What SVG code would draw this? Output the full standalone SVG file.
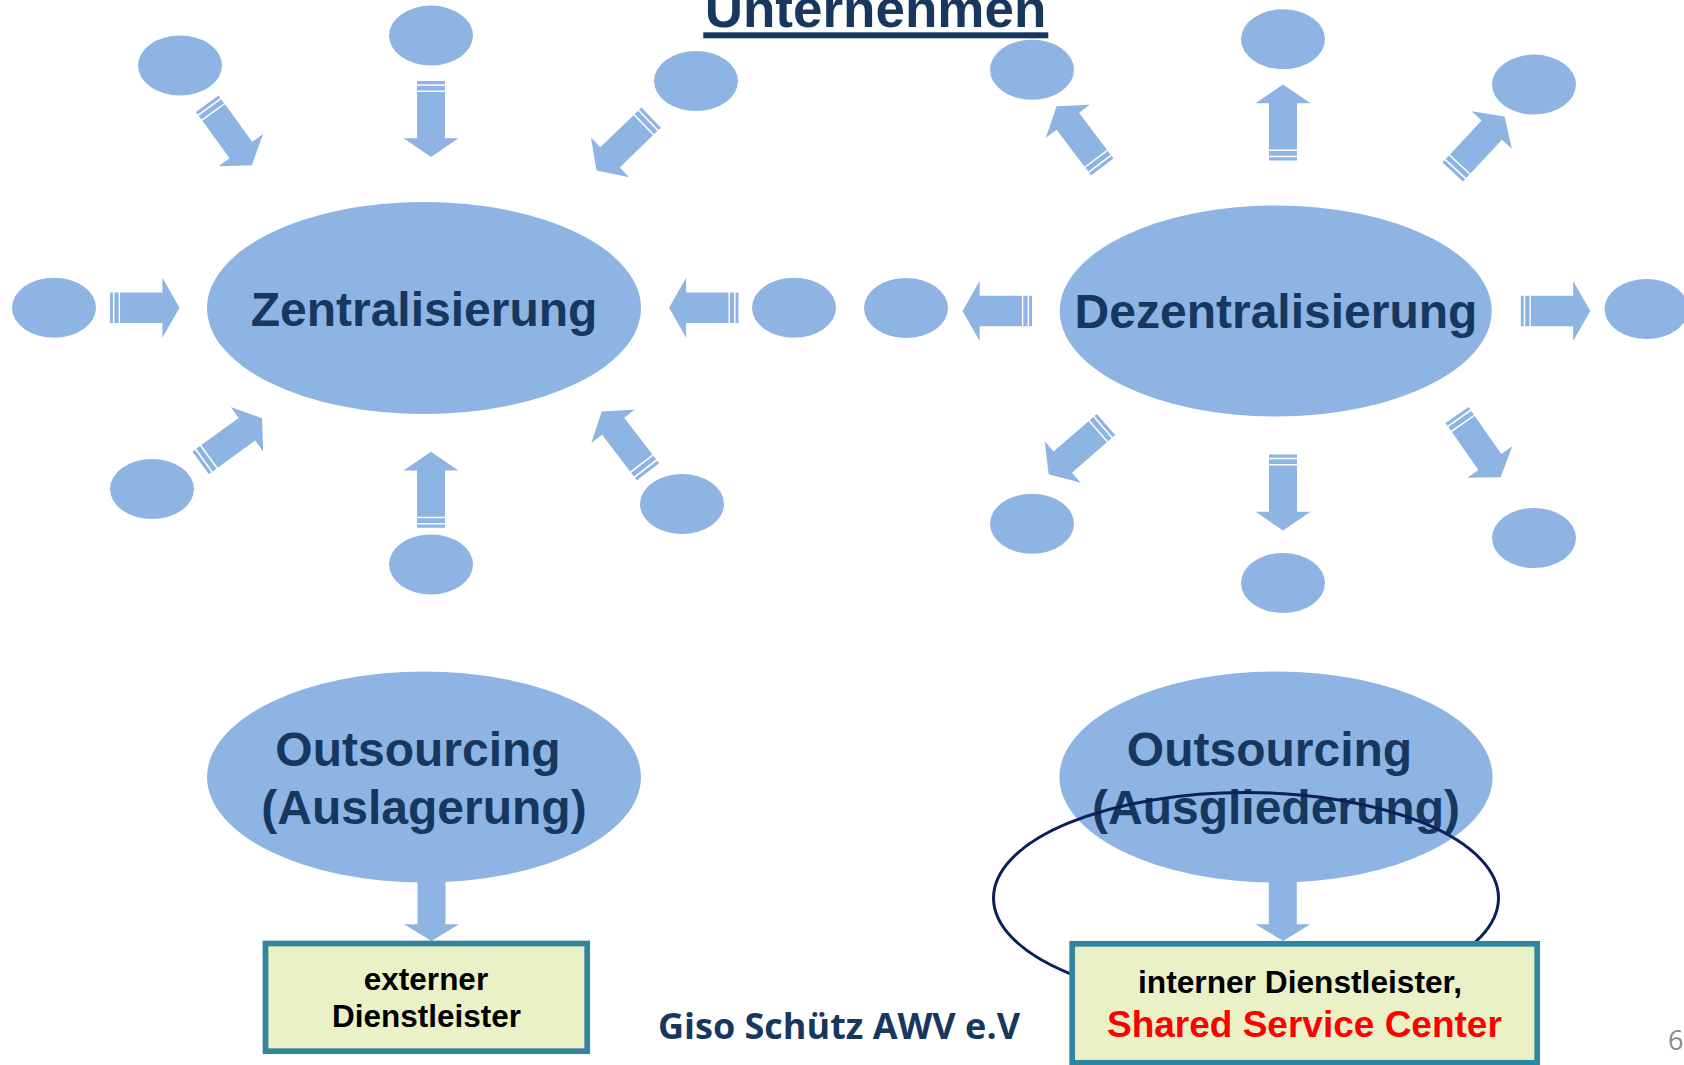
<svg xmlns="http://www.w3.org/2000/svg" width="1684" height="1065" viewBox="0 0 1684 1065">
<style>
.b{fill:#8EB4E3}
.t{font-family:"Liberation Sans",Arial,sans-serif;font-weight:bold;fill:#17375E;text-anchor:middle}
.big{font-size:48px}
.box{fill:#EBF1C6;stroke:#31859C;stroke-width:5.7}
.bt{font-family:"Liberation Sans",Arial,sans-serif;font-weight:bold;text-anchor:middle;fill:#000000}
.ring{fill:none;stroke:#0A1F5C;stroke-width:3}
</style>
<defs>
<path id="arr" d="M0,-14h3.2v28h-3.2z M4.8,-14h4.7v28h-4.7z M11,-14H57.3V-27.5L76,0L57.3,27.5V14H11z"/>
</defs>
<rect width="1684" height="1065" fill="#FFFFFF"/>

<g id="title">
<text class="t" x="875.5" y="27" font-size="53">Unternehmen</text>
<rect x="703.3" y="32.3" width="345" height="6" fill="#17375E"/>
</g>

<!-- left cluster -->
<g id="zentralisierung">
<ellipse class="b" cx="424" cy="308" rx="217" ry="106"/>
<text class="t big" x="424" y="326">Zentralisierung</text>
</g>
<g id="z-sat-tl"><ellipse class="b" cx="180" cy="65.5" rx="42" ry="30"/></g>
<g id="z-sat-t"><ellipse class="b" cx="431" cy="35.6" rx="42" ry="30"/></g>
<g id="z-sat-tr"><ellipse class="b" cx="696" cy="81" rx="42" ry="30"/></g>
<g id="z-sat-l"><ellipse class="b" cx="54" cy="307.7" rx="42" ry="30"/></g>
<g id="z-sat-r"><ellipse class="b" cx="794" cy="307.7" rx="42" ry="30"/></g>
<g id="z-sat-bl"><ellipse class="b" cx="152" cy="489" rx="42" ry="30"/></g>
<g id="z-sat-b"><ellipse class="b" cx="431" cy="564.5" rx="42" ry="30"/></g>
<g id="z-sat-br"><ellipse class="b" cx="682" cy="504" rx="42" ry="30"/></g>

<!-- right cluster -->
<g id="dezentralisierung">
<ellipse class="b" cx="1275.7" cy="311" rx="216" ry="105.5"/>
<text class="t big" x="1276" y="328">Dezentralisierung</text>
</g>
<g id="d-sat-tl"><ellipse class="b" cx="1032" cy="69.8" rx="42" ry="30"/></g>
<g id="d-sat-t"><ellipse class="b" cx="1283" cy="39.3" rx="42" ry="30"/></g>
<g id="d-sat-tr"><ellipse class="b" cx="1534" cy="84.6" rx="42" ry="30"/></g>
<g id="d-sat-l"><ellipse class="b" cx="906" cy="308" rx="42" ry="30"/></g>
<g id="d-sat-r"><ellipse class="b" cx="1646.5" cy="309" rx="42" ry="30"/></g>
<g id="d-sat-bl"><ellipse class="b" cx="1032" cy="523.7" rx="42" ry="30"/></g>
<g id="d-sat-b"><ellipse class="b" cx="1283" cy="583" rx="42" ry="30"/></g>
<g id="d-sat-br"><ellipse class="b" cx="1534" cy="538" rx="42" ry="30"/></g>

<!-- outsourcing nodes -->
<g id="outsourcing-auslagerung">
<ellipse class="b" cx="424" cy="777" rx="217" ry="105.5"/>
<text class="t big" x="418" y="766">Outsourcing</text>
<text class="t big" x="424" y="824">(Auslagerung)</text>
</g>
<g id="outsourcing-ausgliederung">
<ellipse class="b" cx="1276" cy="777" rx="216.6" ry="105.5"/>
<text class="t big" x="1269.5" y="766">Outsourcing</text>
<text class="t big" x="1276" y="824">(Ausgliederung)</text>
</g>

<g id="highlight-ring">
<ellipse class="ring" cx="1246" cy="898" rx="252.5" ry="105.5"/>
</g>

<g id="connectors" class="b">
<use href="#arr" transform="translate(110,307.7) scale(0.914,1.09)"/>
<use href="#arr" transform="translate(738.5,307.7) rotate(180) scale(0.914,1.09)"/>
<use href="#arr" transform="translate(431,81) rotate(90)"/>
<use href="#arr" transform="translate(431,527.7) rotate(-90)"/>
<use href="#arr" transform="translate(207.2,103.7) rotate(54)"/>
<use href="#arr" transform="translate(651.2,117.6) rotate(136)"/>
<use href="#arr" transform="translate(200.6,462.9) rotate(-36)"/>
<use href="#arr" transform="translate(648,471.7) rotate(-127.5)"/>

<use href="#arr" transform="translate(1032,311) rotate(180) scale(0.914,1.09)"/>
<use href="#arr" transform="translate(1520.8,311) scale(0.914,1.09)"/>
<use href="#arr" transform="translate(1283,160.5) rotate(-90)"/>
<use href="#arr" transform="translate(1283,454.5) rotate(90)"/>
<use href="#arr" transform="translate(1102.3,167) rotate(-127)"/>
<use href="#arr" transform="translate(1452.7,172) rotate(-47)"/>
<use href="#arr" transform="translate(1106,424.5) rotate(139)"/>
<use href="#arr" transform="translate(1457,415) rotate(55)"/>

<path d="M417.5,868H445.5V924.3H459L431.5,941L404,924.3H417.5Z"/>
<path d="M1268.8,868H1296.8V924.3H1310.4L1283,941L1255.6,924.3H1268.8Z"/>
</g>

<g id="externer-dienstleister">
<rect class="box" x="265.5" y="943.5" width="321.7" height="107.7"/>
<text class="bt" font-size="31.5" x="426" y="990">externer</text>
<text class="bt" font-size="31.5" x="426.5" y="1027.3">Dienstleister</text>
</g>

<g id="interner-dienstleister">
<rect class="box" x="1072.2" y="943.8" width="465" height="119"/>
<text class="bt" font-size="31.7" x="1300" y="993.3">interner Dienstleister,</text>
<text class="bt" font-size="37" x="1304.4" y="1036.7" style="fill:#FF0000">Shared Service Center</text>
</g>

<g id="footer">
<text x="839" y="1039" font-family="'Open Sans',sans-serif" font-weight="bold" font-size="36" fill="#17375E" text-anchor="middle">Giso Schütz AWV e.V</text>
<text x="1668" y="1050" font-family="'Open Sans',sans-serif" font-size="27" fill="#8C8C8C">6</text>
</g>
</svg>
